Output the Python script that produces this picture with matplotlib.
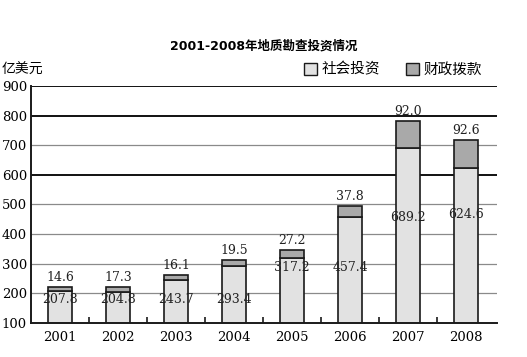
import matplotlib
matplotlib.use("Agg")
import matplotlib.pyplot as plt
from matplotlib.patches import Patch
import numpy as np

plt.rcParams['font.family'] = ['DejaVu Serif', 'Noto Sans CJK SC']

# data
years = ['2001', '2002', '2003', '2004', '2005', '2006', '2007', '2008']
social = [207.8, 204.8, 243.7, 293.4, 317.2, 457.4, 689.2, 624.6]
fiscal = [14.6, 17.3, 16.1, 19.5, 27.2, 37.8, 92.0, 92.6]
y_ticks = [100, 200, 300, 400, 500, 600, 700, 800, 900]

# where the social-investment numbers sit (annotation placement only)
social_label_y = [180, 180, 180, 180, 285, 285, 455, 465]

fig = plt.figure(figsize=(5.27, 3.57), dpi=100)
ax = fig.add_axes([0.059, 0.096, 0.884, 0.663])

x = np.arange(len(years))
width = 0.42
edge = '#1a1a1a'

# grid lines, the heavy ones like in the picture
for t in y_ticks[1:]:
    if t in (600, 800, 900):
        ax.axhline(t, color='#111111', lw=1.4, zorder=0)
    else:
        ax.axhline(t, color='#8a8a8a', lw=0.9, zorder=0)

ax.bar(x, social, width, bottom=0, color='#e2e2e2', edgecolor=edge, lw=1.2, zorder=2)
ax.bar(x, fiscal, width, bottom=social, color='#a9a9a9', edgecolor=edge, lw=1.2, zorder=2)

for i in range(len(years)):
    ax.text(x[i], social[i] + fiscal[i] + 10, f'{fiscal[i]:.1f}', ha='center', va='bottom',
            fontsize=9, color='#222222', zorder=3)
    ax.text(x[i], social_label_y[i], f'{social[i]:.1f}', ha='center', va='center',
            fontsize=9, color='#222222', zorder=3)

ax.set_ylim(100, 900)
ax.set_xlim(-0.5, 7.53)
ax.set_yticks(y_ticks)
ax.set_xticks(x)
ax.set_xticklabels(years)
ax.set_xticks(x[:-1] + 0.5, minor=True)
ax.tick_params(axis='x', which='major', length=0, labelsize=9.5, pad=6)
ax.tick_params(axis='x', which='minor', direction='in', length=4, width=1.2, color=edge)
ax.tick_params(axis='y', length=0, labelsize=9.5, pad=3)

for s in ('top', 'right'):
    ax.spines[s].set_visible(False)
ax.spines['left'].set_linewidth(1.4)
ax.spines['left'].set_color(edge)
ax.spines['bottom'].set_linewidth(1.4)
ax.spines['bottom'].set_color(edge)

fig.text(0.5, 0.872, '2001-2008年地质勘查投资情况', ha='center', va='center',
         fontsize=9, fontweight='bold', family=['DejaVu Sans', 'Noto Sans CJK SC'])
fig.text(0.004, 0.805, '亿美元', ha='left', va='center', fontsize=10,
         family=['Noto Sans CJK SC'])

handles = [Patch(facecolor='#e2e2e2', edgecolor=edge, lw=1.0),
           Patch(facecolor='#a9a9a9', edgecolor=edge, lw=1.0)]
fig.legend(handles, ['社会投资', '财政拨款'], loc='center right', bbox_to_anchor=(0.94, 0.805),
           ncol=2, frameon=False, handlelength=0.9, handleheight=0.9,
           handletextpad=0.3, columnspacing=1.8, prop={'family': 'Noto Sans CJK SC', 'size': 10.5})

fig.savefig('out.png', dpi=100)
